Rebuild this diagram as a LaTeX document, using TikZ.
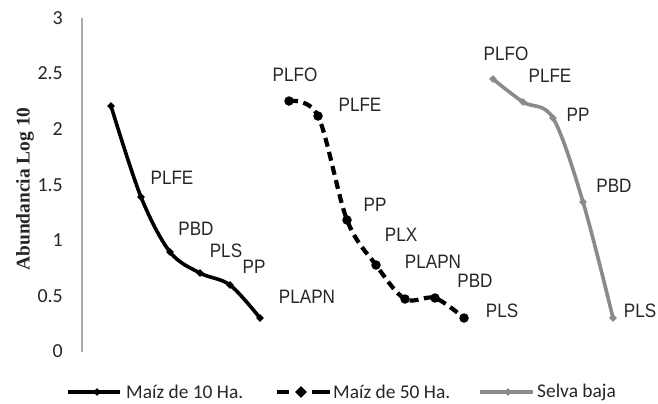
\documentclass[tikz,border=0pt]{standalone}
\usepackage{fontspec}
\setmainfont{Liberation Sans}
\newfontfamily\lblfont[FakeStretch=0.88]{Liberation Sans}
\newfontfamily\calfont{Carlito}
\newfontfamily\ttlfont{Liberation Serif}
\usetikzlibrary{shapes.geometric}
\definecolor{selva}{RGB}{138,138,138}
\definecolor{axisgray}{RGB}{170,170,170}
\begin{document}
\begin{tikzpicture}[x=1bp,y=-1bp,
  lbl/.style={font=\lblfont\fontsize{19.5}{20}\selectfont, inner sep=0pt, text=black!85},
  tick/.style={font=\calfont\fontsize{20}{20}\selectfont, inner sep=0pt, anchor=east, text=black!85},
  leg/.style={font=\calfont\fontsize{19.5}{20}\selectfont, inner sep=0pt, anchor=west, text=black!85},
  sone/.style={line width=3.6bp, black, line join=round},
  stwo/.style={line width=4.2bp, black, dash pattern=on 9bp off 5.5bp, line join=round},
  sthree/.style={line width=3.6bp, selva, line join=round},
  monemark/.style={diamond, fill=black, inner sep=0pt, minimum size=8bp},
  mtwomark/.style={circle, fill=black, inner sep=0pt, minimum size=9.5bp},
  mthreemark/.style={diamond, fill=selva, inner sep=0pt, minimum size=8bp}]
\useasboundingbox (0,0) rectangle (658,403);
\fill[white] (0,0) rectangle (658,403);
% axis
\coordinate (atop) at (82,18);
\coordinate (abot) at (82,352);
\draw[axisgray, line width=1.2bp] (atop) -- (abot);
\node[tick] (t3) at (63,18) {3};
\node[tick] (t25) at (63,73) {2.5};
\node[tick] (t2) at (63,129) {2};
\node[tick] (t15) at (63,185) {1.5};
\node[tick] (t1) at (63,240) {1};
\node[tick] (t05) at (63,296) {0.5};
\node[tick] (t0) at (63,351) {0};
\node[rotate=90, font=\ttlfont\bfseries\fontsize{19.5}{20}\selectfont, inner sep=0pt, text=black!85] (ytitle) at (25,189) {Abundancia Log 10};
% series 1
\coordinate (a1) at (111,106);
\coordinate (a2) at (141,197);
\coordinate (a3) at (170,252);
\coordinate (a4) at (200,273);
\coordinate (a5) at (230,285);
\coordinate (a6) at (260,318);
\draw[sone] plot[smooth, tension=0.55] coordinates {(a1) (a2) (a3) (a4) (a5) (a6)};
\foreach \p in {a1,a2,a3,a4,a5,a6} \node[monemark] at (\p) {};
% series 2
\coordinate (b1) at (289,101);
\coordinate (b2) at (318,116);
\coordinate (b3) at (347,220);
\coordinate (b4) at (376,265);
\coordinate (b5) at (405,299);
\coordinate (b6) at (435,298);
\coordinate (b7) at (464,318);
\draw[stwo] plot[smooth, tension=0.55] coordinates {(b1) (b2) (b3) (b4) (b5) (b6) (b7)};
\foreach \p in {b1,b2,b3,b4,b5,b6,b7} \node[mtwomark] at (\p) {};
% series 3
\coordinate (c1) at (493,79);
\coordinate (c2) at (523,102);
\coordinate (c3) at (553,118);
\coordinate (c4) at (583,202);
\coordinate (c5) at (613,318);
\draw[sthree] plot[smooth, tension=0.55] coordinates {(c1) (c2) (c3) (c4) (c5)};
\foreach \p in {c1,c2,c3,c4,c5} \node[mthreemark] at (\p) {};
% labels series 1
\node[lbl] (la2) at (172,178) {PLFE};
\node[lbl] (la3) at (196,229) {PBD};
\node[lbl] (la4) at (226,251) {PLS};
\node[lbl] (la5) at (254,267) {PP};
\node[lbl] (la6) at (307,297) {PLAPN};
% labels series 2
\node[lbl] (lb1) at (295,75) {PLFO};
\node[lbl] (lb2) at (360,105) {PLFE};
\node[lbl] (lb3) at (375,205) {PP};
\node[lbl] (lb4) at (401,235) {PLX};
\node[lbl] (lb5) at (433,262) {PLAPN};
\node[lbl] (lb6) at (475,281) {PBD};
\node[lbl] (lb7) at (502,311) {PLS};
% labels series 3
\node[lbl] (lc1) at (506,54) {PLFO};
\node[lbl] (lc2) at (550,76) {PLFE};
\node[lbl] (lc3) at (578,115) {PP};
\node[lbl] (lc4) at (614,186) {PBD};
\node[lbl] (lc5) at (640,311) {PLS};
% legend
\coordinate (l1a) at (68,392);
\coordinate (l1b) at (120,392);
\draw[line width=4bp, black] (l1a) -- (l1b);
\node[monemark] (l1m) at (97,392) {};
\node[leg] (l1t) at (126,392) {Maíz de 10 Ha.};
\coordinate (l2a) at (277,392);
\coordinate (l2c) at (289,392);
\coordinate (l2d) at (312,392);
\coordinate (l2b) at (330,392);
\draw[line width=4.2bp, black] (l2a) -- (l2c);
\draw[line width=4.2bp, black] (l2d) -- (l2b);
\node[diamond, fill=black, inner sep=0pt, minimum size=12bp] (l2m) at (301,392) {};
\node[leg] (l2t) at (333,392) {Maíz de 50 Ha.};
\coordinate (l3a) at (480,392);
\coordinate (l3b) at (533,392);
\draw[line width=4bp, selva] (l3a) -- (l3b);
\node[mthreemark] (l3m) at (508,392) {};
\node[leg] (l3t) at (537,392) {Selva baja};
\end{tikzpicture}
\end{document}
